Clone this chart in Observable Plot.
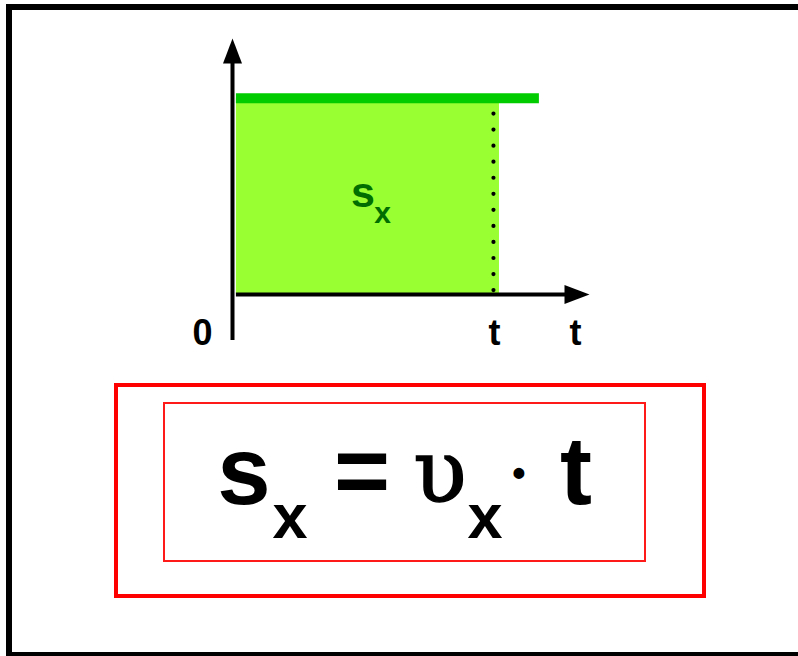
<!DOCTYPE html>
<html>
<head>
<meta charset="utf-8">
<script src="https://cdn.jsdelivr.net/npm/d3@7"></script>
<script src="https://cdn.jsdelivr.net/npm/@observablehq/plot@0.6"></script>
<style>
  html, body { margin: 0; padding: 0; background: #fff; overflow: hidden; }
  #page { position: relative; width: 798px; height: 656px; overflow: hidden; background: #fff; }
  #chart { position: absolute; left: 0; top: 0; }
  #frame { position: absolute; left: 6px; top: 4px; width: 830px; height: 654px; border: 6px solid #000; box-sizing: border-box; pointer-events: none; }
  #outerBox { position: absolute; left: 114px; top: 383px; width: 592px; height: 215px; border: 4px solid #ff0000; box-sizing: border-box; }
  #innerBox { position: absolute; left: 163px; top: 402px; width: 483px; height: 160px; border: 2px solid #ff1a1a; box-sizing: border-box; }
  .f { position: absolute; width: 100px; text-align: center; line-height: 1; white-space: pre;
       font-family: "Liberation Sans", Arial, sans-serif; font-weight: bold; color: #000; }
  .big { font-size: 96px; top: 423px; }
  .sub { font-size: 63px; top: 485px; }
  .greek { font-family: "DejaVu Serif", "Liberation Serif", serif; font-weight: normal; font-size: 88px; top: 428px;
           -webkit-text-stroke: 1.4px #000; }
  .dotop { font-size: 38px; top: 454px; }
</style>
</head>
<body>
<div id="page">
  <div id="chart"></div>
  <div id="outerBox"></div>
  <div id="innerBox"></div>
  <div class="f big" style="left:194px">s</div>
  <div class="f sub" style="left:240px">x</div>
  <div class="f big" style="left:312px">=</div>
  <div class="f greek" style="left:390px">υ</div>
  <div class="f sub" style="left:435px">x</div>
  <div class="f dotop" style="left:469px">•</div>
  <div class="f big" style="left:526px">t</div>
  <div id="frame"></div>
</div>
<script>
// ---- chart values ----
const velocity = [1];              // constant velocity υx (height of the line)
const instant = [1];               // the instant t on the time axis
const areaTimes = [0.015, 1.023];  // shaded area s_x spans from 0 to t
const lineTimes = [0.015, 1.176];  // extent of the velocity line
const dotLevels = [0.02, 0.92];    // dotted drop line from the axis up to the velocity line
const timeAxis = [0.015, 1.368];   // time axis extent (arrow tip at the end)
const velAxis = [-0.234, 1.304];   // velocity axis extent (arrow tip at the end)
const tickTexts = ["0", "t"];      // labels under the axis
const axisName = ["t"];            // name of the time axis
const areaName = ["s"];            // area label
const areaSub = ["x"];             // its subscript

// arrowhead: filled isosceles triangle with its tip at the origin, pointing up
const arrowHead = {
  draw(context) {
    context.moveTo(0, 0);
    context.lineTo(-9.5, 25);
    context.lineTo(9.5, 25);
    context.closePath();
  }
};

const font = "Liberation Sans, Arial, sans-serif";

const chart = Plot.plot({
  width: 798,
  height: 360,
  marginLeft: 232,
  marginRight: 209,
  marginTop: 38,
  marginBottom: 20,
  style: { background: "transparent" },
  x: { domain: [0, timeAxis[1]], axis: null },
  y: { domain: velAxis, axis: null },
  marks: [
    // area under the velocity line: s_x
    Plot.rect([{ t1: areaTimes[0], t2: areaTimes[1], v1: 0, v2: velocity[0] }], {
      x1: "t1", x2: "t2", y1: "v1", y2: "v2", fill: "#99ff33"
    }),
    // velocity line
    Plot.ruleY(velocity, {
      y: d => d, x1: () => lineTimes[0], x2: () => lineTimes[1],
      stroke: "#00cc00", strokeWidth: 10
    }),
    // dotted drop line at t
    Plot.ruleX(instant, {
      x: d => d, y1: () => dotLevels[0], y2: () => dotLevels[1],
      stroke: "#000", strokeWidth: 4.2, strokeDasharray: "0 16.05", strokeLinecap: "round"
    }),
    // axes (drawn from the arrow end so the inset shortens the arrow side)
    Plot.ruleX([0], {
      x: d => d, y1: () => velAxis[1], y2: () => velAxis[0],
      stroke: "#000", strokeWidth: 4, insetTop: 22
    }),
    Plot.ruleY([0], {
      y: d => d, x1: () => timeAxis[0], x2: () => timeAxis[1],
      stroke: "#000", strokeWidth: 4, insetRight: 22
    }),
    Plot.dot([{ t: 0, v: velAxis[1] }], {
      x: "t", y: "v", symbol: arrowHead, r: 5, fill: "#000", stroke: "none"
    }),
    Plot.dot([{ t: timeAxis[1], v: 0 }], {
      x: "t", y: "v", symbol: arrowHead, r: 5, fill: "#000", stroke: "none", rotate: 90
    }),
    // tick labels
    Plot.text([tickTexts[0]], {
      x: () => 0, y: () => velAxis[0], text: d => d, dx: -30, dy: 4.5,
      lineAnchor: "bottom", fontSize: 36, fontWeight: "bold", fontFamily: font, fill: "#000"
    }),
    Plot.text([tickTexts[1]], {
      x: () => instant[0], y: () => velAxis[0], text: d => d, dx: 1, dy: 4.5,
      lineAnchor: "bottom", fontSize: 36, fontWeight: "bold", fontFamily: font, fill: "#000"
    }),
    Plot.text(axisName, {
      x: () => timeAxis[1], y: () => velAxis[0], text: d => d, dx: -14, dy: 4.5,
      lineAnchor: "bottom", fontSize: 36, fontWeight: "bold", fontFamily: font, fill: "#000"
    }),
    // area label s_x
    Plot.text(areaName, {
      x: () => instant[0] / 2, y: () => velocity[0] / 2, text: d => d, dy: 11,
      lineAnchor: "bottom", fontSize: 43, fontWeight: "bold", fontFamily: font, fill: "#006e00"
    }),
    Plot.text(areaSub, {
      x: () => instant[0] / 2, y: () => velocity[0] / 2, text: d => d, dx: 19.5, dy: 27,
      lineAnchor: "bottom", fontSize: 30, fontWeight: "bold", fontFamily: font, fill: "#006e00"
    })
  ]
});
document.getElementById("chart").appendChild(chart);
</script>
</body>
</html>
